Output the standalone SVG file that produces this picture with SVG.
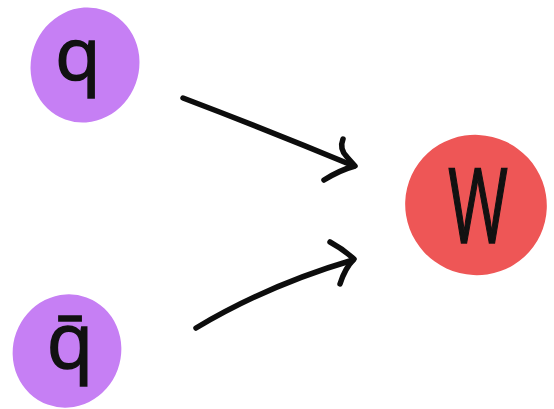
<svg xmlns="http://www.w3.org/2000/svg" width="554" height="409" viewBox="0 0 554 409">
  <style>
    .quark { fill: #C67FF4; }
    .boson { fill: #EE5656; }
    .label { font-family: "Open Sans", "Noto Sans", sans-serif; fill: #111; stroke: #111; stroke-width: 1.6; text-anchor: middle; }
    .stroke { fill: none; stroke: #0d0d0d; stroke-width: 5.5; stroke-linecap: round; stroke-linejoin: round; }
  </style>
  <rect width="554" height="409" fill="#ffffff"/>

  <g id="node-q">
    <ellipse class="quark" cx="85" cy="65" rx="54" ry="58" transform="rotate(20 85 65)"/>
    <text class="label" x="78" y="80" font-size="74">q</text>
  </g>

  <g id="node-qbar">
    <ellipse class="quark" cx="67" cy="351" rx="54" ry="57" transform="rotate(20 67 351)"/>
    <text class="label" x="70" y="368" font-size="76">q̄</text>
  </g>

  <g id="node-W">
    <ellipse class="boson" cx="476" cy="205" rx="71" ry="70" transform="rotate(25 476 205)"/>
    <text class="label" x="478" y="243" font-size="104" textLength="60" lengthAdjust="spacingAndGlyphs">W</text>
  </g>

  <g id="connectors">
    <path class="stroke" d="M183,98 Q270,131 354,166"/>
    <path class="stroke" d="M343,139 Q339,149 347,157 L355,166 Q340,170 324,180"/>
    <path class="stroke" d="M196,328 Q268,285 353,260"/>
    <path class="stroke" d="M330,242 Q343,249 354,259 Q345,268 340,284"/>
  </g>
</svg>
